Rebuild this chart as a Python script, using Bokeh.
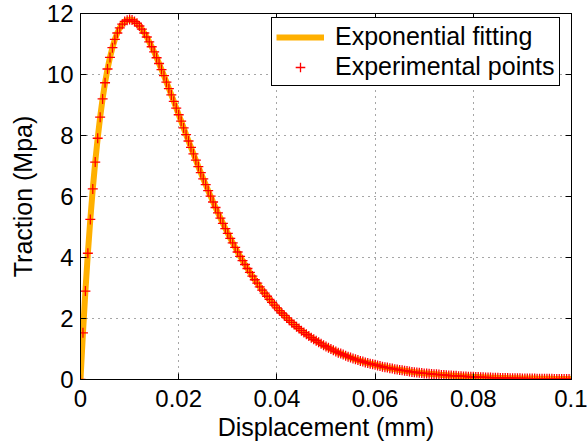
from bokeh.plotting import figure
from bokeh.models import LinearAxis, Range1d, FixedTicker, Legend, LegendItem
from bokeh.embed import file_html
from bokeh.resources import INLINE

# Displacement (mm), sampled every 0.0005 mm
displacement = [i * 0.0005 for i in range(201)]

# Traction (MPa)
traction = [
    0.00, 1.53, 2.90, 4.14, 5.25, 6.25, 7.13, 7.91, 8.60, 9.20,
    9.73, 10.18, 10.56, 10.88, 11.15, 11.36, 11.53, 11.65, 11.74, 11.78,
    11.80, 11.79, 11.74, 11.68, 11.59, 11.49, 11.36, 11.23, 11.07, 10.91,
    10.74, 10.55, 10.36, 10.16, 9.96, 9.75, 9.54, 9.33, 9.12, 8.90,
    8.68, 8.47, 8.25, 8.03, 7.82, 7.61, 7.40, 7.19, 6.98, 6.78,
    6.58, 6.39, 6.19, 6.01, 5.82, 5.64, 5.46, 5.29, 5.12, 4.95,
    4.79, 4.63, 4.48, 4.33, 4.18, 4.04, 3.90, 3.77, 3.64, 3.51,
    3.39, 3.27, 3.16, 3.04, 2.93, 2.83, 2.73, 2.63, 2.53, 2.44,
    2.35, 2.26, 2.18, 2.10, 2.02, 1.94, 1.87, 1.80, 1.73, 1.67,
    1.60, 1.54, 1.48, 1.43, 1.37, 1.32, 1.27, 1.22, 1.17, 1.12,
    1.08, 1.04, 1.00, 0.96, 0.92, 0.88, 0.85, 0.82, 0.78, 0.75,
    0.72, 0.69, 0.66, 0.64, 0.61, 0.59, 0.56, 0.54, 0.52, 0.50,
    0.48, 0.46, 0.44, 0.42, 0.40, 0.39, 0.37, 0.36, 0.34, 0.33,
    0.31, 0.30, 0.29, 0.28, 0.26, 0.25, 0.24, 0.23, 0.22, 0.21,
    0.20, 0.20, 0.19, 0.18, 0.17, 0.17, 0.16, 0.15, 0.15, 0.14,
    0.13, 0.13, 0.12, 0.12, 0.11, 0.11, 0.10, 0.10, 0.09, 0.09,
    0.09, 0.082, 0.079, 0.075, 0.072, 0.069, 0.066, 0.063, 0.061, 0.058,
    0.055, 0.053, 0.051, 0.049, 0.046, 0.044, 0.043, 0.041, 0.039, 0.037,
    0.036, 0.034, 0.033, 0.031, 0.030, 0.029, 0.027, 0.026, 0.025, 0.024,
    0.023, 0.022, 0.021, 0.020, 0.019, 0.018, 0.017, 0.017, 0.016, 0.015,
    0.015,
]

x_ticks = [0, 0.02, 0.04, 0.06, 0.08, 0.1]
x_tick_labels = {0: "0", 0.02: "0.02", 0.04: "0.04", 0.06: "0.06", 0.08: "0.08", 0.1: "0.1"}
y_ticks = [0, 2, 4, 6, 8, 10, 12]

FONT = "Liberation Sans"
TICK_FS = "24px"
LABEL_FS = "25px"

p = figure(width=587, height=444, output_backend="svg", toolbar_location=None,
           x_range=Range1d(0, 0.1), y_range=Range1d(0, 12),
           min_border_left=80, min_border_right=16, min_border_top=13, min_border_bottom=65)

p.outline_line_color = "black"
p.outline_line_width = 1

for ax in (p.xaxis[0], p.yaxis[0]):
    ax.major_tick_in = 6
    ax.major_tick_out = 0
    ax.minor_tick_line_color = None
    ax.major_label_text_font = FONT
    ax.major_label_text_font_size = TICK_FS
    ax.major_label_text_color = "black"
    ax.axis_label_text_font = FONT
    ax.axis_label_text_font_size = LABEL_FS
    ax.axis_label_text_font_style = "normal"
    ax.axis_label_text_color = "black"
    ax.axis_line_color = "black"
    ax.major_tick_line_color = "black"

p.xaxis[0].ticker = FixedTicker(ticks=x_ticks)
p.xaxis[0].major_label_overrides = x_tick_labels
p.xaxis[0].axis_label = "Displacement (mm)"
p.xaxis[0].axis_label_standoff = 3
p.xaxis[0].major_label_standoff = 10
p.yaxis[0].ticker = FixedTicker(ticks=y_ticks)
p.yaxis[0].axis_label = "Traction (Mpa)"
p.yaxis[0].axis_label_standoff = 7
p.yaxis[0].major_label_standoff = 7

top = LinearAxis(ticker=FixedTicker(ticks=x_ticks), major_label_text_font_size="0px",
                 major_tick_in=6, major_tick_out=0, minor_tick_line_color=None,
                 major_label_text_color=None)
right = LinearAxis(ticker=FixedTicker(ticks=y_ticks), major_label_text_font_size="0px",
                   major_tick_in=6, major_tick_out=0, minor_tick_line_color=None,
                   major_label_text_color=None)
p.add_layout(top, "above")
p.add_layout(right, "right")

for g in (p.xgrid[0], p.ygrid[0]):
    g.grid_line_color = "black"
    g.grid_line_dash = "1 5"
    g.grid_line_alpha = 0.7
    g.grid_line_width = 1

fit = p.line(displacement, traction, line_color="#FFB000", line_width=6)
pts = p.scatter(displacement, traction, marker="cross", size=10, line_color="#FF0000",
                line_width=1.3)

legend = Legend(items=[LegendItem(label="Exponential fitting", renderers=[fit]),
                       LegendItem(label="Experimental points", renderers=[pts])],
                location=(191, 293))
legend.label_text_font = FONT
legend.label_text_font_size = LABEL_FS
legend.label_text_color = "black"
legend.border_line_color = "black"
legend.border_line_width = 1
legend.border_line_alpha = 1
legend.background_fill_alpha = 1
legend.glyph_width = 48
legend.glyph_height = 24
legend.label_height = 24
legend.spacing = 1
legend.padding = 4
legend.margin = 0
legend.label_standoff = 11
p.add_layout(legend, "center")

open("out.html", "w").write(file_html(p, INLINE))
